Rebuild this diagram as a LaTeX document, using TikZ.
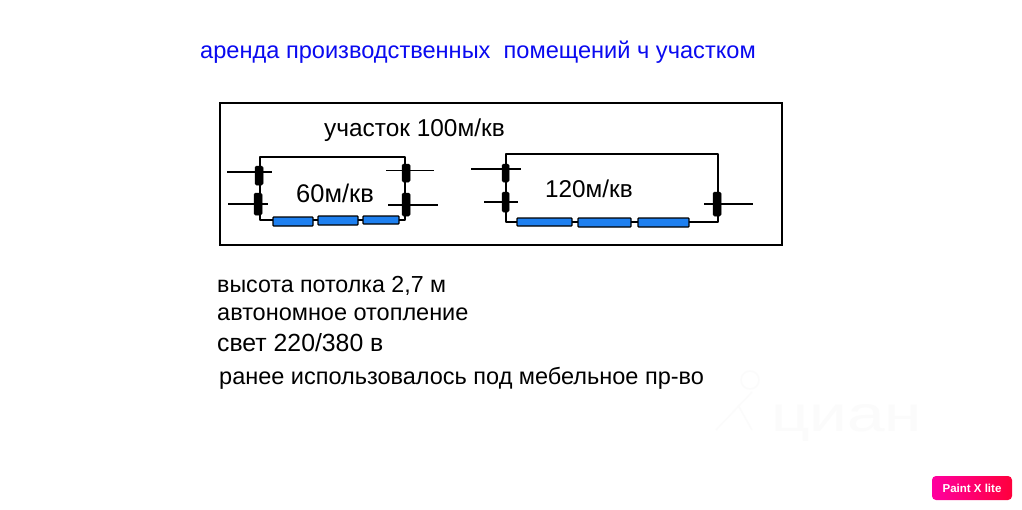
\documentclass[tikz,border=0pt]{standalone}
\usepackage{fontspec}
\setmainfont{Liberation Sans}
\definecolor{winblue}{HTML}{1E80F0}
\definecolor{titleblue}{HTML}{0A0AF0}
\definecolor{badgeleft}{HTML}{FF00A0}
\definecolor{badgeright}{HTML}{FF003C}
\tikzset{
  every picture/.style={x=1pt,y=-1pt},
  lab/.style={anchor=base west,inner sep=0pt,text=black},
  wall/.style={draw=black,line width=1.8pt,line cap=round,line join=round},
  wire/.style={draw=black,line width=1.3pt},
  doorleaf/.style={fill=black,draw=black,line width=0.5pt,rounded corners=1.5pt},
  winbox/.style={fill=winblue,draw=black,line width=1.2pt,rounded corners=0.8pt}
}
\newcommand{\fsz}[1]{\fontsize{#1}{#1}\selectfont}
\newcommand{\doorat}[7]{% x0 x1 y0 y1 wire-x0 wire-x1 wire-y
  \path[doorleaf] (#1,#3) rectangle (#2,#4);
  \draw[wire] (#5,#7) -- (#6,#7);}
\newcommand{\winat}[4]{\path[winbox] (#1,#3) rectangle (#2,#4);}
\begin{document}
\begin{tikzpicture}
\useasboundingbox (0,0) rectangle (1022,509);
\fill[white] (0,0) rectangle (1022,509);
% watermark
\begin{scope}[draw=black!1.5,text=black!1.5,line width=1.5pt]
  \draw (750,380) circle (9);
  \draw (752,392) -- (716,430) (738,405) -- (752,430);
  \node[anchor=base west,inner sep=0pt,font=\fsz{50},xscale=1.35] (wm) at (770,431) {циан};
\end{scope}
% title
\node[lab,text=titleblue,font=\fsz{23.6}] (title) at (200,58) {аренда производственных\ \ помещений ч участком};
% plot
\draw[draw=black,line width=1.8pt] (220,103) rectangle (782,245);
\node[lab,font=\fsz{24.4}] (plot) at (324,136) {участок 100м/кв};
% room 1
\draw[wall] (260,220) -- (260,157) -- (405,157) -- (405,220) -- (260,220);
\doorat{255}{263}{166}{185}{227}{272}{172}
\doorat{254}{262}{193}{215}{228}{268}{204}
\doorat{402}{410}{164}{182}{386}{434}{170.5}
\doorat{402}{410}{193}{216}{388}{438}{205}
\winat{273}{313}{217}{226}
\winat{318}{358}{216}{225}
\winat{363}{399}{216}{224}
\node[lab,font=\fsz{25.5}] (r1) at (296,202) {60м/кв};
% room 2
\draw[wall] (506,222) -- (506,154) -- (718,154) -- (718,222) -- (506,222);
\doorat{502}{509}{164}{182}{471}{521}{169}
\doorat{502}{509}{192}{212}{484}{518}{202}
\doorat{713}{721}{192}{216}{704}{753}{204}
\winat{517}{572}{218}{226}
\winat{578}{631}{218}{227}
\winat{638}{689}{218}{227}
\node[lab,font=\fsz{24.3}] (r2) at (545,197) {120м/кв};
% notes
\node[lab,font=\fsz{23.2}] (n1) at (217,292) {высота потолка 2,7 м};
\node[lab,font=\fsz{23.5}] (n2) at (217,320) {автономное отопление};
\node[lab,font=\fsz{24.8}] (n3) at (217,351) {свет 220/380 в};
\node[lab,font=\fsz{23.5}] (n4) at (219,384) {ранее использовалось под мебельное пр-во};
% badge
\shade[left color=badgeleft,right color=badgeright,rounded corners=4pt] (932,476) rectangle (1012,500);
\node[anchor=center,inner sep=0pt,text=white,font=\fsz{11.5}\bfseries] (badge) at (972,488) {Paint X lite};
\end{tikzpicture}
\end{document}
